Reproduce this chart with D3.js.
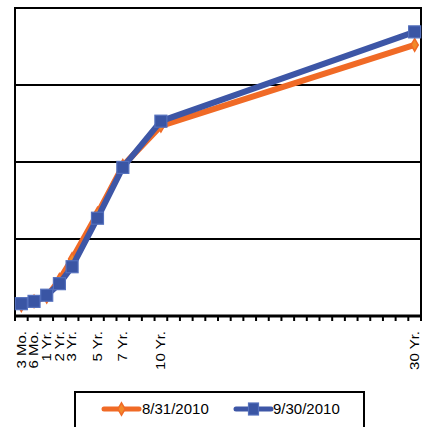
<!DOCTYPE html>
<html>
<head>
<meta charset="utf-8">
<script src="https://cdn.jsdelivr.net/npm/d3@7"></script>
<style>
  html, body { margin: 0; padding: 0; background: #fff; }
  svg { display: block; }
</style>
</head>
<body>
<svg id="chart" width="437" height="427"></svg>
<script>
// Category slots of the x axis (one per year after 1 Yr., Excel-style category axis)
const slots = ["3 Mo.","6 Mo.","1 Yr.","2 Yr.","3 Yr.","4 Yr.","5 Yr.","6 Yr.","7 Yr.","8 Yr.","9 Yr.","10 Yr.",
  "11 Yr.","12 Yr.","13 Yr.","14 Yr.","15 Yr.","16 Yr.","17 Yr.","18 Yr.","19 Yr.","20 Yr.",
  "21 Yr.","22 Yr.","23 Yr.","24 Yr.","25 Yr.","26 Yr.","27 Yr.","28 Yr.","29 Yr.","30 Yr."];
// Maturities that carry data and tick labels
const maturities = ["3 Mo.","6 Mo.","1 Yr.","2 Yr.","3 Yr.","5 Yr.","7 Yr.","10 Yr.","30 Yr."];
// Yields (%)
const aug2010 = [0.14, 0.19, 0.25, 0.47, 0.74, 1.33, 1.95, 2.47, 3.52];
const sep2010 = [0.16, 0.19, 0.27, 0.42, 0.64, 1.27, 1.93, 2.53, 3.69];
const seriesNames = ["8/31/2010", "9/30/2010"];
const yTicks = [0, 1, 2, 3, 4];

const colors = { aug: "#F06A26", sep: "#3D56A6" };

const svg = d3.select("#chart");
const pLeft = 15, pRight = 421, pTop = 8, pBottom = 316;

const x = d3.scaleBand().domain(slots).range([pLeft, pRight]).paddingInner(0).paddingOuter(0);
const y = d3.scaleLinear().domain([0, 4]).range([pBottom, pTop]);
const cx = d => x(d) + x.bandwidth() / 2;

// Gridlines
svg.append("g").selectAll("line").data(yTicks.slice(1, 4)).join("line")
  .attr("x1", pLeft).attr("x2", pRight)
  .attr("y1", d => y(d)).attr("y2", d => y(d))
  .attr("stroke", "#000").attr("stroke-width", 1.8);

// Plot frame
svg.append("rect").attr("x", pLeft).attr("y", pTop)
  .attr("width", pRight - pLeft).attr("height", pBottom - pTop)
  .attr("fill", "none").attr("stroke", "#000").attr("stroke-width", 2);

// X axis with ticks between categories
const xAxis = svg.append("g");
xAxis.append("line").attr("x1", pLeft - 1).attr("x2", pRight + 1)
  .attr("y1", pBottom).attr("y2", pBottom).attr("stroke", "#000").attr("stroke-width", 3);
const boundaries = slots.map(s => x(s)).concat([pRight]);
xAxis.selectAll("line.tick").data(boundaries).join("line").attr("class", "tick")
  .attr("x1", d => d).attr("x2", d => d)
  .attr("y1", pBottom).attr("y2", pBottom + 5)
  .attr("stroke", "#000").attr("stroke-width", 2);

xAxis.selectAll("text").data(maturities).join("text")
  .attr("transform", d => `translate(${cx(d)},331) scale(0.8,1) rotate(-90)`)
  .attr("text-anchor", "end")
  .attr("dy", "0.35em")
  .attr("font-family", "Liberation Sans, Arial, sans-serif")
  .attr("font-size", 15)
  .attr("fill", "#000")
  .text(d => d);

// Lines
const line = d3.line().x(d => cx(d.k)).y(d => y(d.v));
const augData = maturities.map((k, i) => ({ k, v: aug2010[i] }));
const sepData = maturities.map((k, i) => ({ k, v: sep2010[i] }));

svg.append("path").datum(augData).attr("d", line)
  .attr("fill", "none").attr("stroke", colors.aug).attr("stroke-width", 6)
  .attr("stroke-linejoin", "round").attr("stroke-linecap", "round");
const diamond = d3.symbol().type(d3.symbolDiamond).size(45);
svg.append("g").selectAll("path").data(augData).join("path")
  .attr("transform", d => `translate(${cx(d.k)},${y(d.v)})`)
  .attr("d", diamond).attr("fill", "#F28A2A").attr("stroke", colors.aug).attr("stroke-width", 1.5);

svg.append("path").datum(sepData).attr("d", line)
  .attr("fill", "none").attr("stroke", colors.sep).attr("stroke-width", 6)
  .attr("stroke-linejoin", "round").attr("stroke-linecap", "round");
svg.append("g").selectAll("rect").data(sepData).join("rect")
  .attr("x", d => cx(d.k) - 6).attr("y", d => y(d.v) - 6)
  .attr("width", 12).attr("height", 12)
  .attr("fill", "#3A55A4").attr("stroke", "#5470BD").attr("stroke-width", 1.2);

// Legend
const lg = svg.append("g");
lg.append("rect").attr("x", 75).attr("y", 392).attr("width", 289).attr("height", 50)
  .attr("fill", "#fff").attr("stroke", "#000").attr("stroke-width", 2);
const legendItems = [
  { name: seriesNames[0], color: colors.aug, x1: 104, x2: 139, tx: 142, type: "diamond" },
  { name: seriesNames[1], color: colors.sep, x1: 236, x2: 271, tx: 273, type: "square" }
];
const ly = 409;
legendItems.forEach(it => {
  lg.append("line").attr("x1", it.x1).attr("x2", it.x2).attr("y1", ly).attr("y2", ly)
    .attr("stroke", it.color).attr("stroke-width", 5).attr("stroke-linecap", "round");
  const mx = (it.x1 + it.x2) / 2;
  if (it.type === "diamond") {
    lg.append("path").attr("transform", `translate(${mx},${ly})`).attr("d", diamond)
      .attr("fill", "#F28A2A").attr("stroke", colors.aug).attr("stroke-width", 1.5);
  } else {
    lg.append("rect").attr("x", mx - 5).attr("y", ly - 6).attr("width", 10).attr("height", 12)
      .attr("fill", "#3A55A4").attr("stroke", "#5470BD").attr("stroke-width", 1.2);
  }
  lg.append("text").attr("x", it.tx).attr("y", ly).attr("dy", "0.35em")
    .attr("font-family", "Liberation Sans, Arial, sans-serif").attr("font-size", 15)
    .attr("fill", "#000").text(it.name);
});
</script>
</body>
</html>
